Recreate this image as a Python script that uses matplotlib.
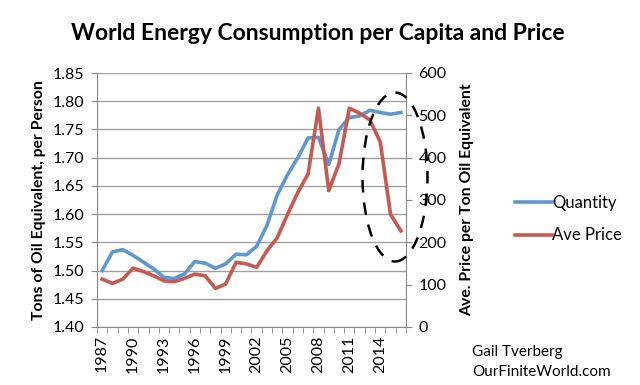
import matplotlib
matplotlib.use("Agg")
import matplotlib.pyplot as plt
from matplotlib.patches import Ellipse
import numpy as np

plt.rcParams['font.family'] = ['Lato', 'DejaVu Sans']

years = list(range(1987, 2017))
quantity = [1.500, 1.533, 1.537, 1.527, 1.515, 1.503, 1.488, 1.486, 1.494, 1.516,
            1.513, 1.504, 1.512, 1.529, 1.528, 1.543, 1.580, 1.634, 1.670, 1.700,
            1.735, 1.736, 1.688, 1.750, 1.771, 1.774, 1.784, 1.780, 1.777, 1.780]
price = [113, 103, 113, 139, 131, 121, 109, 107, 115, 125,
         121, 91, 102, 153, 149, 141, 180, 211, 266, 318,
         362, 517, 322, 386, 517, 505, 489, 437, 266, 227]
xtick_labels = [str(y) for y in years[::3]]

blue = '#5f97cf'
red = '#c65a52'

fig = plt.figure(figsize=(6.4, 3.85), dpi=100)
W, H = 640, 385
ax = fig.add_axes([97 / W, 1 - 327 / H, (406 - 97) / W, (327 - 73) / H])
ax2 = ax.twinx()

x = np.arange(len(years))
ax.plot(x, quantity, color=blue, lw=2.6, solid_joinstyle='round', label='Quantity', zorder=3)
ax2.plot(x, price, color=red, lw=2.6, solid_joinstyle='round', label='Ave Price', zorder=3)

ax.set_xlim(-0.5, len(years) - 0.5)
ax.set_ylim(1.40, 1.85)
ax2.set_ylim(0, 600)
yt = np.arange(1.40, 1.851, 0.05)
ax.set_yticks(yt)
ax.set_yticklabels([f'{v:.2f}' for v in yt])
ax2.set_yticks(range(0, 601, 100))

ax.set_xticks(x[::3])
ax.set_xticklabels(xtick_labels, rotation=90)
ax.set_xticks(np.arange(-0.5, len(years), 1), minor=True)
ax.tick_params(axis='x', which='major', length=0, pad=6, labelsize=11.5)
ax.tick_params(axis='x', which='minor', length=4, direction='out', color='#888888')
ax.tick_params(axis='y', length=4, color='#888888', labelsize=11.5, pad=5)
ax2.tick_params(axis='y', length=4, color='#888888', labelsize=11.5, pad=5)

ax.grid(axis='y', color='#a0a0a0', lw=1)
ax.set_axisbelow(True)
for a in (ax, ax2):
    a.spines['top'].set_visible(False)
    for s in ('left', 'right', 'bottom'):
        a.spines[s].set_color('#888888')
ax.spines['right'].set_visible(False)
ax2.spines['left'].set_visible(False)
ax2.spines['bottom'].set_visible(False)

ax.set_ylabel('Tons of Oil Equivalent, per Person', fontsize=11.3, fontweight='bold', labelpad=5)
ax2.set_ylabel('Ave. Price per Ton Oil Equivalent', fontsize=11.3, fontweight='bold', labelpad=10)

fig.text(318 / W, 1 - 33 / H, 'World Energy Consumption per Capita and Price',
         ha='center', va='center', fontsize=16.5, fontweight='bold')

fig.legend(handles=[ax.lines[0], ax2.lines[0]], loc='center left',
           bbox_to_anchor=(500 / W, 1 - 219 / H), frameon=False, fontsize=12,
           handlelength=2.2, handletextpad=0.05, labelspacing=1.0)

fig.text(472 / W, 1 - 352 / H, 'Gail Tverberg', fontsize=11, va='center')
fig.text(472 / W, 1 - 372 / H, 'OurFiniteWorld.com', fontsize=11, va='center')

ax2.add_patch(Ellipse(((395 - 97) / (406 - 97), (327 - 177) / 254), 65 / 309, 169 / 254,
              angle=0, transform=ax2.transAxes, fill=False, ec='black', lw=1.8,
              ls=(0, (5, 4)), clip_on=False, zorder=5))

fig.savefig('out.png', dpi=100)
